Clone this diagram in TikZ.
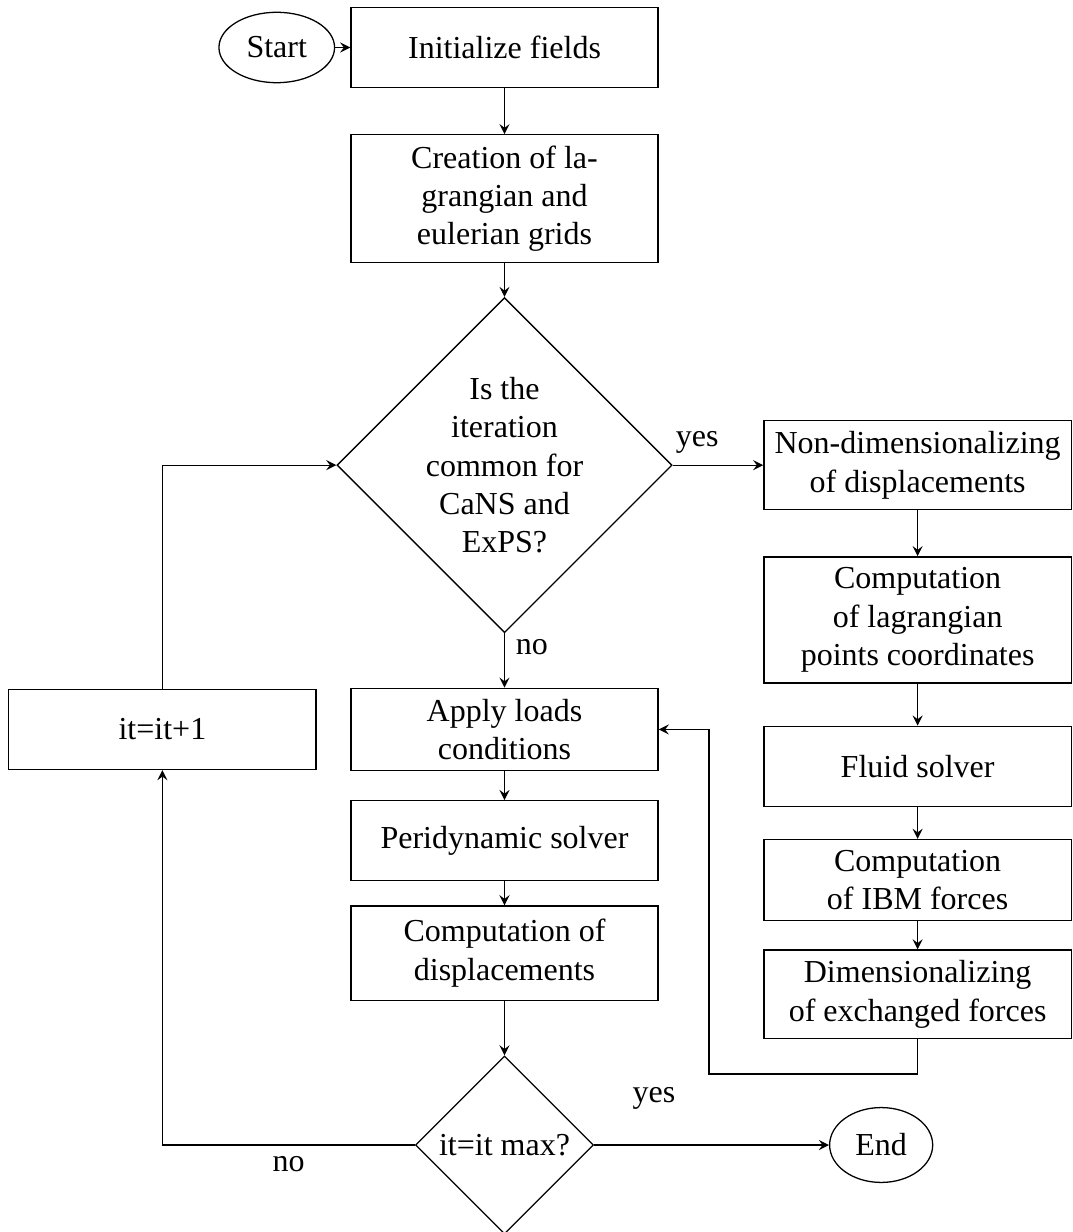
\documentclass[tikz,border=0pt]{standalone}
\usepackage{fontspec}
\setmainfont{Liberation Serif}
\usetikzlibrary{shapes.geometric,arrows,positioning}

\begin{document}
\begin{tikzpicture}[
    x=0.3125pt, y=0.3125pt,
    terminal/.style={ellipse, draw, minimum height=22pt},
    process/.style={rectangle, draw, align=center, minimum width=96pt, minimum height=25pt},
    decision/.style={diamond, draw, aspect=1, align=center, inner sep=0pt},
    arrow/.style={->, >=stealth}
  ]
  \useasboundingbox (0,0) rectangle (1072,-1232);

  % main column
  \node[process] (init) at (504.5,-47.5) {Initialize fields};
  \node[terminal, left=4.7pt of init] (start) {Start};
  \node[process, below=14.4pt of init] (grids) {Creation of la-\\grangian and\\eulerian grids};
  \node[decision, minimum size=104.7pt, below=10.6pt of grids] (common) {Is the\\iteration\\common for\\CaNS and\\ExPS?};
  \node[process, below=17pt of common] (loads) {Apply loads\\conditions};
  \node[process, below=9pt of loads] (peri) {Peridynamic solver};
  \node[process, below=7.5pt of peri, minimum height=29.5pt] (disp) {Computation of\\displacements};
  \node[decision, minimum size=55.6pt, below=17pt of disp] (itmax) {it=it max?};
  \node[terminal, minimum height=23.4pt, right=73.4pt of itmax] (end) {End};
  \node[process, left=10.5pt of loads] (incr) {it=it+1};

  % fluid column
  \node[process, right=28.3pt of common] (nondim) {Non-dimensionalizing\\of displacements};
  \node[process, below=14.4pt of nondim] (lagr) {Computation\\of lagrangian\\points coordinates};
  \node[process, below=13.1pt of lagr] (fluid) {Fluid solver};
  \node[process, below=10pt of fluid] (ibm) {Computation\\of IBM forces};
  \node[process, below=8.75pt of ibm] (dimf) {Dimensionalizing\\of exchanged forces};
  \coordinate (back) at (709,-1074);

  \draw[arrow] (start) -- (init);
  \draw[arrow] (init) -- (grids);
  \draw[arrow] (grids) -- (common);
  \draw[arrow] (common) -- node[above, pos=0.27] {yes} (nondim);
  \draw[arrow] (common) -- node[right, pos=0.26] {no} (loads);
  \draw[arrow] (loads) -- (peri);
  \draw[arrow] (peri) -- (disp);
  \draw[arrow] (disp) -- (itmax);
  \draw[arrow] (itmax) -- node[above=7.5pt, pos=0.255] {yes} (end);
  \draw[arrow] (itmax.west) -| node[below, pos=0.25] {no} (incr.south);
  \draw[arrow] (incr.north) |- (common.west);

  \draw[arrow] (nondim) -- (lagr);
  \draw[arrow] (lagr) -- (fluid);
  \draw[arrow] (fluid) -- (ibm);
  \draw[arrow] (ibm) -- (dimf);
  \draw[arrow] (dimf.south) |- (back) |- (loads.east);

\end{tikzpicture}
\end{document}
